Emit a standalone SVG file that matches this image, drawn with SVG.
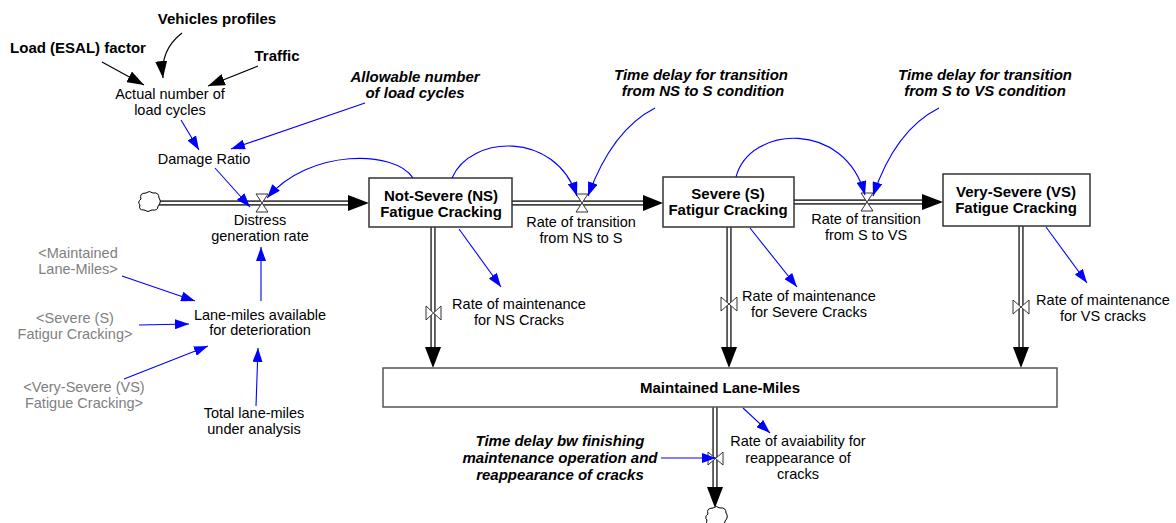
<svg xmlns="http://www.w3.org/2000/svg" width="1176" height="523" viewBox="0 0 1176 523">
<style>
text{font-family:"Liberation Sans",Arial,sans-serif;font-size:14.5px;text-anchor:middle;fill:#000}
.b{font-weight:bold;font-size:15px}
.bi{font-weight:bold;font-style:italic;font-size:15px}
.g{fill:#808080}
.stock{fill:#fff;stroke:#333;stroke-width:1.5}
.pipeo{fill:none;stroke:#444;stroke-width:5.5}
.pipei{fill:none;stroke:#fff;stroke-width:2.2}
.valve{fill:#fff;stroke:#333;stroke-width:1}
.cloud{fill:#fff;stroke:#000;stroke-width:1}
.lb{fill:none;stroke:#0000ff;stroke-width:1.1}
.lk{fill:none;stroke:#000;stroke-width:1.2}
.head{fill:#000}
</style>
<defs>
<marker id="ab" markerUnits="userSpaceOnUse" markerWidth="15" markerHeight="10" refX="14" refY="5" orient="auto"><path d="M0,0 L14,5 L0,10 z" fill="#0000ff"/></marker>
<marker id="ak" markerUnits="userSpaceOnUse" markerWidth="18" markerHeight="12" refX="17" refY="6" orient="auto"><path d="M0,0 L17,6 L0,12 z" fill="#000"/></marker>
</defs>

<g id="flows">
  <!-- horizontal pipes -->
  <path class="pipeo" d="M159,203 H350 M512,203 H645 M794,202 H924"/>
  <path class="pipei" d="M159,203 H350 M512,203 H645 M794,202 H924"/>
  <polygon class="head" points="348,195 369,203 348,211"/>
  <polygon class="head" points="643,195 663,203 643,211"/>
  <polygon class="head" points="922,194 943,202 922,210"/>
  <!-- vertical pipes -->
  <path class="pipeo" d="M433,227 V350 M729,227 V350 M1021,226 V350 M715,407 V490"/>
  <path class="pipei" d="M433,227 V350 M729,227 V350 M1021,226 V350 M715,407 V490"/>
  <polygon class="head" points="425,347 433,368 441,347"/>
  <polygon class="head" points="721,347 729,368 737,347"/>
  <polygon class="head" points="1013,347 1021,368 1029,347"/>
  <polygon class="head" points="707,487 715,508 723,487"/>
</g>

<g id="source-cloud">
  <path class="cloud" d="M141,199 q-2,-6 5,-6 q3,-3 7,0 q6,-1 6,5 q3,4 -1,8 q0,5 -6,4 q-4,3 -8,0 q-6,0 -4,-5 q-3,-3 1,-6z"/>
</g>
<g id="sink-cloud">
  <path class="cloud" d="M708,514 q-2,-6 5,-6 q3,-3 7,0 q6,-1 6,5 q3,4 -1,8 q0,5 -6,4 q-4,3 -8,0 q-6,0 -4,-5 q-3,-3 1,-6z"/>
</g>

<g id="distress-generation-rate">
  <path class="valve" d="M256,194 H268 L256,212 H268 Z"/>
  <text x="260" y="225">Distress</text>
  <text x="260" y="241">generation rate</text>
</g>
<g id="rate-transition-ns-s">
  <path class="valve" d="M576,194 H588 L576,212 H588 Z"/>
  <text x="581" y="227">Rate of transition</text>
  <text x="581" y="243">from NS to S</text>
</g>
<g id="rate-transition-s-vs">
  <path class="valve" d="M861,193 H873 L861,211 H873 Z"/>
  <text x="866" y="224">Rate of transition</text>
  <text x="866" y="240">from S to VS</text>
</g>
<g id="rate-maint-ns">
  <path class="valve" d="M426,306 V320 L441,306 V320 Z"/>
  <text x="519" y="309">Rate of maintenance</text>
  <text x="519" y="325">for NS Cracks</text>
</g>
<g id="rate-maint-s">
  <path class="valve" d="M721,297 V311 L737,297 V311 Z"/>
  <text x="809" y="301">Rate of maintenance</text>
  <text x="809" y="317">for Severe Cracks</text>
</g>
<g id="rate-maint-vs">
  <path class="valve" d="M1013,300 V314 L1029,300 V314 Z"/>
  <text x="1103" y="305">Rate of maintenance</text>
  <text x="1103" y="321">for VS cracks</text>
</g>
<g id="rate-availability">
  <path class="valve" d="M708,452 V465 L723,452 V465 Z"/>
  <text x="798" y="446">Rate of avaiability for</text>
  <text x="798" y="463">reappearance of</text>
  <text x="798" y="479">cracks</text>
</g>

<g id="stock-ns">
  <rect class="stock" x="369" y="178" width="143" height="49"/>
  <text class="b" x="441" y="201">Not-Severe (NS)</text>
  <text class="b" x="441" y="217">Fatigue Cracking</text>
</g>
<g id="stock-s">
  <rect class="stock" x="663" y="177" width="131" height="50"/>
  <text class="b" x="728" y="199">Severe (S)</text>
  <text class="b" x="728" y="215">Fatigur Cracking</text>
</g>
<g id="stock-vs">
  <rect class="stock" x="943" y="174" width="147" height="52"/>
  <text class="b" x="1016" y="197">Very-Severe (VS)</text>
  <text class="b" x="1016" y="213">Fatigue Cracking</text>
</g>
<g id="stock-maintained">
  <rect class="stock" x="383" y="368" width="674" height="39" style="stroke:#555"/>
  <text class="b" x="720" y="393">Maintained Lane-Miles</text>
</g>

<g id="vehicles-profiles"><text class="b" x="217" y="24">Vehicles profiles</text></g>
<g id="load-factor"><text class="b" x="78" y="53">Load (ESAL) factor</text></g>
<g id="traffic"><text class="b" x="277" y="61">Traffic</text></g>
<g id="actual-load-cycles">
  <text x="170" y="99">Actual number of</text>
  <text x="170" y="115">load cycles</text>
</g>
<g id="damage-ratio"><text x="204" y="164">Damage Ratio</text></g>
<g id="allowable-load-cycles">
  <text class="bi" x="415" y="82">Allowable number</text>
  <text class="bi" x="415" y="98">of load cycles</text>
</g>
<g id="delay-ns-s">
  <text class="bi" x="701" y="80">Time delay for transition</text>
  <text class="bi" x="703" y="96">from NS to S condition</text>
</g>
<g id="delay-s-vs">
  <text class="bi" x="985" y="80">Time delay for transition</text>
  <text class="bi" x="985" y="96">from S to VS condition</text>
</g>
<g id="delay-reappearance">
  <text class="bi" x="560" y="446">Time delay bw finishing</text>
  <text class="bi" x="560" y="463">maintenance operation and</text>
  <text class="bi" x="560" y="480">reappearance of cracks</text>
</g>
<g id="shadow-maintained">
  <text class="g" x="78" y="258">&lt;Maintained</text>
  <text class="g" x="78" y="274">Lane-Miles&gt;</text>
</g>
<g id="shadow-severe">
  <text class="g" x="75" y="323">&lt;Severe (S)</text>
  <text class="g" x="75" y="339">Fatigur Cracking&gt;</text>
</g>
<g id="shadow-very-severe">
  <text class="g" x="84" y="392">&lt;Very-Severe (VS)</text>
  <text class="g" x="84" y="408">Fatigue Cracking&gt;</text>
</g>
<g id="lane-miles-available">
  <text x="260" y="320">Lane-miles available</text>
  <text x="260" y="335">for deterioration</text>
</g>
<g id="total-lane-miles">
  <text x="254" y="418">Total lane-miles</text>
  <text x="254" y="434">under analysis</text>
</g>

<g id="connectors">
  <path class="lk" marker-end="url(#ak)" d="M102,62 L144,85"/>
  <path class="lk" marker-end="url(#ak)" d="M182,33 Q160,50 163,78"/>
  <path class="lk" marker-end="url(#ak)" d="M258,66 L208,86"/>
  <path class="lb" marker-end="url(#ab)" d="M181,120 L199,150"/>
  <path class="lb" marker-end="url(#ab)" d="M365,103 L231,149"/>
  <path class="lb" marker-end="url(#ab)" d="M215,168 L250,207"/>
  <path class="lb" marker-end="url(#ab)" d="M413,178 C395,150 310,148 267,198"/>
  <path class="lb" marker-end="url(#ab)" d="M452,178 C470,135 555,130 577,196"/>
  <path class="lb" marker-end="url(#ab)" d="M655,108 Q612,130 588,196"/>
  <path class="lb" marker-end="url(#ab)" d="M736,177 C750,125 845,120 865,195"/>
  <path class="lb" marker-end="url(#ab)" d="M939,108 Q895,130 873,196"/>
  <path class="lb" marker-end="url(#ab)" d="M459,229 L501,287"/>
  <path class="lb" marker-end="url(#ab)" d="M750,228 L797,287"/>
  <path class="lb" marker-end="url(#ab)" d="M1046,227 L1087,283"/>
  <path class="lb" marker-end="url(#ab)" d="M743,408 L770,433"/>
  <path class="lb" marker-end="url(#ab)" d="M661,458 L716,458"/>
  <path class="lb" marker-end="url(#ab)" d="M261,301 L261,247"/>
  <path class="lb" marker-end="url(#ab)" d="M122,276 L195,301"/>
  <path class="lb" marker-end="url(#ab)" d="M139,325 L189,324"/>
  <path class="lb" marker-end="url(#ab)" d="M124,379 L208,346"/>
  <path class="lb" marker-end="url(#ab)" d="M256,406 L258,348"/>
</g>
</svg>
